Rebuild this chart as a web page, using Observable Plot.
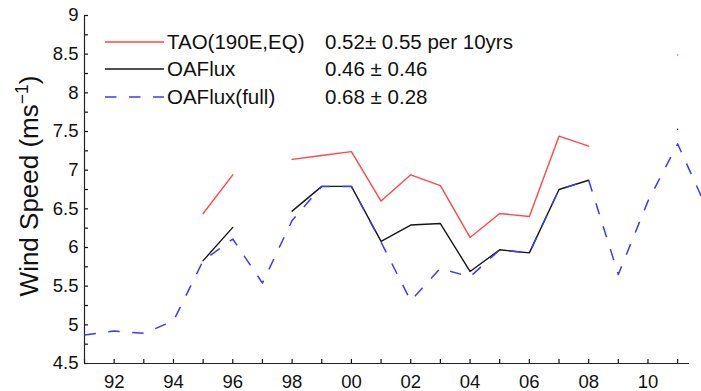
<!DOCTYPE html>
<html>
<head>
<meta charset="utf-8">
<script src="https://cdn.jsdelivr.net/npm/d3@7"></script>
<script src="https://cdn.jsdelivr.net/npm/@observablehq/plot@0.6"></script>
<style>
  body { margin: 0; background: #fff; overflow: hidden; font-family: "Liberation Sans", Arial, Helvetica, sans-serif; }
  #wrap { position: relative; width: 701px; height: 391px; }
  #legend { position: absolute; left: 105px; top: 27.8px; font-size: 20.5px; color: #111; }
  .row { display: flex; align-items: center; height: 27.8px; white-space: nowrap; }
  .row svg { width: 59px; height: 6px; flex: none; }
  .name { margin-left: 3px; width: 158px; }
</style>
</head>
<body>
<div id="wrap">
  <div id="chart"></div>
  <div id="legend"></div>
</div>
<script>
// Annual mean wind speed at 190E on the equator (m/s)
const years      = [1991, 1992, 1993, 1994, 1995, 1996, 1997, 1998, 1999, 2000, 2001,
                    2002, 2003, 2004, 2005, 2006, 2007, 2008, 2009, 2010, 2011, 2012];
const tao        = [NaN, NaN, NaN, NaN, 6.44, 6.94, NaN, 7.14, 7.19, 7.24, 6.60,
                    6.94, 6.80, 6.13, 6.44, 6.40, 7.44, 7.31, NaN, NaN, 8.49, NaN];
const oaflux     = [NaN, NaN, NaN, NaN, 5.83, 6.26, NaN, 6.47, 6.79, 6.79, 6.08,
                    6.29, 6.31, 5.69, 5.97, 5.93, 6.75, 6.87, NaN, NaN, 7.53, NaN];
const oafluxFull = [4.87, 4.92, 4.89, 5.05, 5.83, 6.11, 5.54, 6.35, 6.79, 6.79, 6.07,
                    5.31, 5.73, 5.62, 5.97, 5.93, 6.75, 6.87, 5.65, 6.60, 7.34, 6.49];

// Legend entries: series name and decadal trend
const seriesNames = ["TAO(190E,EQ)", "OAFlux", "OAFlux(full)"];
const trendTexts  = ["0.52\u00b1 0.55 per 10yrs", "0.46 \u00b1 0.46", "0.68 \u00b1 0.28"];

// Axis ticks
const yTickValues  = [4.5, 5, 5.5, 6, 6.5, 7, 7.5, 8, 8.5, 9];
const yMinorValues = [4.5, 4.75, 5, 5.25, 5.5, 5.75, 6, 6.25, 6.5, 6.75, 7, 7.25, 7.5, 7.75, 8, 8.25, 8.5, 8.75, 9];
const xLabelYears  = [1992, 1994, 1996, 1998, 2000, 2002, 2004, 2006, 2008, 2010];

const RED = "#ff4747", BLACK = "#161616", BLUE = "#3a3aff";
const DASH = "11.5,12.5";
const FONT = '"Liberation Sans", Arial, Helvetica, sans-serif';

const W = 701, H = 391;
const M = { left: 84, right: 12, top: 15, bottom: 28 };
const TICK = 4;
const frameW = W - M.left - M.right;
const frameH = H - M.top - M.bottom;

const table = years.map((year, i) => ({
  year, tao: tao[i], oaflux: oaflux[i], full: oafluxFull[i]
}));

const xDomain = [1991, 2011.4];
const xTickYears = years.filter(y => y <= xDomain[1]);

const chart = Plot.plot({
  width: W,
  height: H,
  marginLeft: M.left,
  marginRight: M.right,
  marginTop: M.top,
  marginBottom: M.bottom,
  style: { fontFamily: FONT, fontSize: "18.5px", color: "#111", background: "#fff" },
  x: { domain: xDomain, label: null },
  y: { domain: [4.5, 9], label: null },
  marks: [
    // inward tick marks along the left and bottom edges
    Plot.tickY(yMinorValues, { y: d => d, insetRight: frameW - TICK, stroke: "#111", strokeWidth: 1.2 }),
    Plot.tickX(xTickYears, { x: d => d, insetTop: frameH - TICK, stroke: "#111", strokeWidth: 1.2 }),
    // tick labels
    Plot.axisY({ ticks: yTickValues, tickSize: 0, tickPadding: 6, tickFormat: d => String(d), label: null }),
    Plot.axisX({ ticks: xLabelYears, tickSize: 0, tickPadding: 11, tickFormat: d => String(d).slice(2), label: null }),
    // axis lines
    Plot.ruleX([xDomain[0]], { stroke: "#222", strokeWidth: 1.2 }),
    Plot.ruleY([4.5], { stroke: "#222", strokeWidth: 1.2 }),
    // series
    Plot.line(table, { x: "year", y: "tao", stroke: RED, strokeWidth: 1.4 }),
    Plot.line(table, { x: "year", y: "oaflux", stroke: BLACK, strokeWidth: 1.4 }),
    Plot.line(table, { x: "year", y: "full", stroke: BLUE, strokeWidth: 1.5, strokeDasharray: DASH, strokeLinecap: "butt" })
  ]
});
document.getElementById("chart").appendChild(chart);

// y-axis title with superscript unit
const title = d3.select(chart).append("text")
  .attr("transform", "translate(37.5,186) rotate(-90)")
  .attr("text-anchor", "middle")
  .attr("fill", "#111")
  .style("font-family", FONT)
  .style("font-size", "26px");
title.append("tspan").text("Wind Speed (ms");
title.append("tspan").attr("dy", -10).style("font-size", "17.5px").text("\u22121");
title.append("tspan").attr("dy", 10).text(")");

// legend rows
const legendStyles = [
  { stroke: RED, dash: null },
  { stroke: BLACK, dash: null },
  { stroke: BLUE, dash: DASH }
];
const legend = d3.select("#legend");
seriesNames.forEach((name, i) => {
  const row = legend.append("div").attr("class", "row");
  const sw = row.append("svg").attr("viewBox", "0 0 59 6");
  sw.append("line")
    .attr("x1", 0).attr("x2", 59).attr("y1", 3).attr("y2", 3)
    .attr("stroke", legendStyles[i].stroke)
    .attr("stroke-width", 1.5)
    .attr("stroke-dasharray", legendStyles[i].dash);
  row.append("span").attr("class", "name").text(name);
  row.append("span").text(trendTexts[i]);
});
</script>
</body>
</html>
